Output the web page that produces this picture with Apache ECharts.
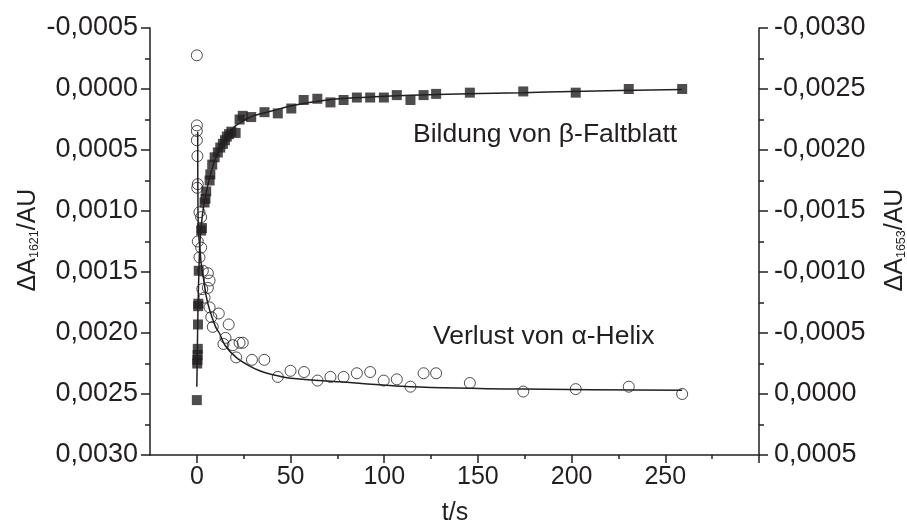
<!DOCTYPE html>
<html>
<head>
<meta charset="utf-8">
<script src="https://cdn.jsdelivr.net/npm/echarts@6/dist/echarts.min.js"></script>
<style>html,body{margin:0;padding:0;background:#fff}#c{width:907px;height:528px}</style>
</head>
<body>
<div id="c"></div>
<script>
// x-axis ticks/labels
const xMajorTicks = [0, 50, 100, 150, 200, 250, 300];
const xMinorTicks = [25, 75, 125, 175, 225, 275];
const xLabels = [0, 50, 100, 150, 200, 250];

// Beta-sheet formation (ΔA1621, left axis), filled squares
const betaT = [0, 0.2, 0.3, 0.4, 0.5, 0.6, 0.7, 0.8, 1.0, 2.3, 2.7, 4.1, 4.6, 5.0, 6.8, 7.2, 8.2, 9.5, 11.2, 12.5, 13.9, 15.0, 16.0, 17.2, 18.4, 20.7, 22.8, 24.5, 29.0, 36.1, 43.2, 50.4, 57.0, 64.3, 71.3, 78.3, 85.4, 92.5, 99.8, 106.7, 114.0, 121.0, 127.7, 145.7, 174.2, 202.2, 230.5, 259.0];
const betaA1621 = [0.00255, 0.00225, 0.00222, 0.00218, 0.00213, 0.00193, 0.00178, 0.00176, 0.00149, 0.00116, 0.00114, 0.00093, 0.00090, 0.00084, 0.00075, 0.00070, 0.00062, 0.00056, 0.00052, 0.00048, 0.00045, 0.00042, 0.00039, 0.00037, 0.00035, 0.00036, 0.00025, 0.00022, 0.00023, 0.00019, 0.00020, 0.00016, 0.00009, 0.00008, 0.00011, 0.00009, 0.00007, 0.00007, 0.00007, 0.00005, 0.00009, 0.00005, 0.00004, 0.00003, 0.00002, 0.00003, 0.00000, 0.00000];

// Beta fit curve
const betaFitT = [0, 0.3, 0.6, 1, 1.5, 2, 3, 4, 5, 6, 8, 10, 12, 15, 18, 20, 25, 30, 40, 50, 60, 76, 100, 128, 174, 200, 259];
const betaFitA = [0.00244, 0.0021, 0.0018, 0.00155, 0.0013, 0.00118, 0.00103, 0.00093, 0.00085, 0.00078, 0.00066, 0.00057, 0.0005, 0.00042, 0.00035, 0.00031, 0.00026, 0.00022, 0.00018, 0.00014, 0.00011, 0.00008, 0.00006, 0.000045, 0.00003, 0.00002, 0.000005];

// Alpha-helix loss (ΔA1653, right axis), open circles
const alphaT = [0, 0, 0, 0, 0.3, 0.5, 0.2, 1.4, 2.3, 0.5, 2.3, 1.4, 3.2, 5.9, 6.8, 2.9, 5.9, 4.1, 6.8, 11.7, 7.7, 8.5, 17.0, 15.3, 14.2, 19.2, 22.8, 24.5, 21.0, 29.4, 36.0, 43.2, 50.0, 57.2, 64.4, 71.3, 78.3, 85.4, 92.5, 99.7, 106.7, 114.0, 121.0, 127.7, 145.7, 174.2, 202.2, 230.5, 259.0];
const alphaA1653 = [-0.002776, -0.002202, -0.002156, -0.00208, -0.00195, -0.00172, -0.00169, -0.00149, -0.00145, -0.00125, -0.0012, -0.00112, -0.00101, -0.00099, -0.00093, -0.00086, -0.00087, -0.00079, -0.00071, -0.00066, -0.00063, -0.00055, -0.00057, -0.00046, -0.00041, -0.0004, -0.00042, -0.00042, -0.0003, -0.00028, -0.00028, -0.00014, -0.00019, -0.00018, -0.00011, -0.00014, -0.00014, -0.00017, -0.00018, -0.00011, -0.00012, -0.00006, -0.00017, -0.00017, -0.00009, -0.00002, -0.00004, -0.00006, 0.0];

// Alpha fit curve
const alphaFitT = [0.45, 0.6, 1.0, 1.6, 2.3, 3, 4, 5, 7, 10, 12, 15, 21, 28, 33.5, 40, 50, 76, 114, 174, 259];
const alphaFitA = [-0.00215, -0.0015, -0.0013, -0.0012, -0.00107, -0.001, -0.0009, -0.0008, -0.00068, -0.00055, -0.0005, -0.0004, -0.0003, -0.00023, -0.00019, -0.00016, -0.00013, -0.0001, -0.00006, -0.00004, -0.00003];

const FONT = '"Liberation Sans", Arial, sans-serif';
const fmt = v => {
  const r = Math.round(v * 10000) / 10000;
  const s = Math.abs(r).toFixed(4).replace('.', ',');
  return (r < 0 ? '-' : '') + s;
};
const zip = (a, b) => a.map((x, i) => [x, b[i]]);

const axisLineStyle = { color: '#231f20', width: 1.5 };
const yAxisCommon = {
  type: 'value', inverse: true, interval: 0.0005,
  axisLine: { show: true, onZero: false, lineStyle: axisLineStyle },
  axisTick: { show: true, inside: false, length: 9, lineStyle: axisLineStyle },
  minorTick: { show: true, splitNumber: 2, length: 5, lineStyle: { color: '#231f20', width: 1.5 } },
  splitLine: { show: false },
  minorSplitLine: { show: false }
};
const labelStyle = m => ({ formatter: fmt, fontSize: 27, fontFamily: FONT, color: '#231f20', margin: m });

const chart = echarts.init(document.getElementById('c'), null, { renderer: 'canvas' });
chart.setOption({
  animation: false,
  backgroundColor: '#fff',
  grid: { left: 150, right: 148, top: 28, bottom: 73, containLabel: false },
  xAxis: [
    {
      type: 'value', min: -25, max: 300, position: 'bottom',
      axisLine: { show: true, onZero: false, lineStyle: axisLineStyle },
      axisTick: { show: true, length: 8, customValues: xMajorTicks, lineStyle: axisLineStyle },
      axisLabel: { customValues: xLabels, fontSize: 25, fontFamily: FONT, color: '#231f20', margin: 10 },
      splitLine: { show: false }
    },
    {
      type: 'value', min: -25, max: 300, position: 'bottom',
      axisLine: { show: false, onZero: false },
      axisTick: { show: true, length: 4, customValues: xMinorTicks, lineStyle: axisLineStyle },
      axisLabel: { show: false },
      splitLine: { show: false }
    }
  ],
  yAxis: [
    Object.assign({}, yAxisCommon, { min: -0.0005, max: 0.0030, position: 'left', axisLabel: labelStyle(12) }),
    Object.assign({}, yAxisCommon, { min: -0.0030, max: 0.0005, position: 'right', axisLabel: labelStyle(15) })
  ],
  series: [
    {
      type: 'line', xAxisIndex: 0, yAxisIndex: 0, data: zip(betaFitT, betaFitA),
      showSymbol: false, smooth: 0.3, lineStyle: { color: '#231f20', width: 1.5 }, z: 2
    },
    {
      type: 'line', xAxisIndex: 0, yAxisIndex: 1, data: zip(alphaFitT, alphaFitA),
      showSymbol: false, smooth: 0.3, lineStyle: { color: '#231f20', width: 1.5 }, z: 2
    },
    {
      type: 'scatter', xAxisIndex: 0, yAxisIndex: 0, data: zip(betaT, betaA1621),
      symbol: 'rect', symbolSize: 10, itemStyle: { color: '#231f20' }, z: 3
    },
    {
      type: 'scatter', xAxisIndex: 0, yAxisIndex: 1, data: zip(alphaT, alphaA1653),
      symbol: 'circle', symbolSize: 11,
      itemStyle: { color: 'rgba(0,0,0,0)', borderColor: '#231f20', borderWidth: 1 }, z: 4
    }
  ],
  graphic: [
    { type: 'text', x: 413, y: 135, style: { text: 'Bildung von β-Faltblatt', fontSize: 26.5, fontFamily: FONT, fill: '#231f20', align: 'left', verticalAlign: 'middle' } },
    { type: 'text', x: 433, y: 337, style: { text: 'Verlust von α-Helix', fontSize: 26.5, fontFamily: FONT, fill: '#231f20', align: 'left', verticalAlign: 'middle' } },
    { type: 'text', x: 455, y: 513, style: { text: 't/s', fontSize: 25, fontFamily: FONT, fill: '#231f20', align: 'center', verticalAlign: 'middle' } },
    { type: 'text', x: 27, y: 240, rotation: Math.PI / 2, style: {
        text: '{a|ΔA}{s|1621}{a|/AU}', align: 'center', verticalAlign: 'middle',
        rich: { a: { fontSize: 25, fontFamily: FONT, fill: '#231f20', lineHeight: 28, verticalAlign: 'bottom' },
                s: { fontSize: 12.5, fontFamily: FONT, fill: '#231f20', lineHeight: 12, verticalAlign: 'bottom' } } } },
    { type: 'text', x: 894, y: 240, rotation: Math.PI / 2, style: {
        text: '{a|ΔA}{s|1653}{a|/AU}', align: 'center', verticalAlign: 'middle',
        rich: { a: { fontSize: 25, fontFamily: FONT, fill: '#231f20', lineHeight: 28, verticalAlign: 'bottom' },
                s: { fontSize: 12.5, fontFamily: FONT, fill: '#231f20', lineHeight: 12, verticalAlign: 'bottom' } } } }
  ]
});
</script>
</body>
</html>
